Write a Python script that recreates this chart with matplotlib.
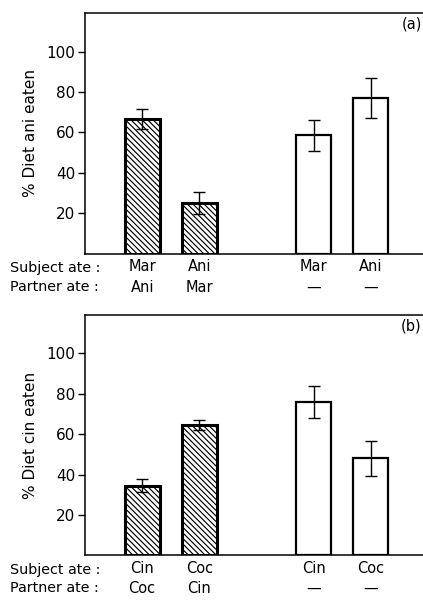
import numpy as np
import matplotlib
matplotlib.use('Agg')
import matplotlib.pyplot as plt

plt.rcParams['font.family'] = ['DejaVu Sans']
plt.rcParams['hatch.linewidth'] = 0.85

# panel (a): % diet ani eaten
subj_a = ['Mar', 'Ani', 'Mar', 'Ani']
partner_a = ['Ani', 'Mar', '—', '—']
mean_a = [66.5, 25, 58.5, 77]
err_a = [5, 5.5, 7.8, 10]

# panel (b): % diet cin eaten
subj_b = ['Cin', 'Coc', 'Cin', 'Coc']
partner_b = ['Coc', 'Cin', '—', '—']
mean_b = [34.5, 64.5, 76, 48]
err_b = [3.3, 2.5, 8, 8.5]

paired = [True, True, False, False]
xpos = [1, 2, 4, 5]

fig = plt.figure(figsize=(4.23, 6.01), dpi=100)
ax_a = fig.add_axes([0.201, 0.578, 0.80, 0.40])
ax_b = fig.add_axes([0.201, 0.076, 0.80, 0.400])

def draw_panel(ax, means, errs, subj, partner, ylab, tag):
    for x, m, e, p in zip(xpos, means, errs, paired):
        if p:
            ax.bar(x, m, width=0.61, color='white', edgecolor='black',
                   linewidth=2.2, hatch='\\' * 6, zorder=2)
        else:
            ax.bar(x, m, width=0.61, color='white', edgecolor='black',
                   linewidth=1.6, zorder=2)
        ax.errorbar(x, m, yerr=e, color='black', capsize=4.5,
                    elinewidth=1.0, capthick=1.0, zorder=3)
    ax.set_xlim(0, 5.92)
    ax.set_ylim(0, 119)
    ax.set_yticks([20, 40, 60, 80, 100])
    ax.tick_params(axis='y', direction='out', length=5, width=1,
                   labelsize=11, pad=2)
    ax.set_xticks(xpos)
    ax.set_xticklabels([s + '\n' + p for s, p in zip(subj, partner)],
                       fontsize=10.5, linespacing=1.45)
    ax.tick_params(axis='x', length=0, pad=4)
    ax.spines['right'].set_visible(False)
    for sp in ['left', 'top', 'bottom']:
        ax.spines[sp].set_linewidth(1.1)
    ax.set_ylabel(ylab, fontsize=11, labelpad=6)
    ax.text(0.995, 0.985, tag, transform=ax.transAxes, ha='right', va='top',
            fontsize=10.5)
    ax.text(-0.222, -0.03, 'Subject ate :\nPartner ate :', transform=ax.transAxes,
            ha='left', va='top', fontsize=10.3, linespacing=1.45)

draw_panel(ax_a, mean_a, err_a, subj_a, partner_a, '% Diet ani eaten', '(a)')
draw_panel(ax_b, mean_b, err_b, subj_b, partner_b, '% Diet cin eaten', '(b)')

fig.savefig('out.png', dpi=100)
